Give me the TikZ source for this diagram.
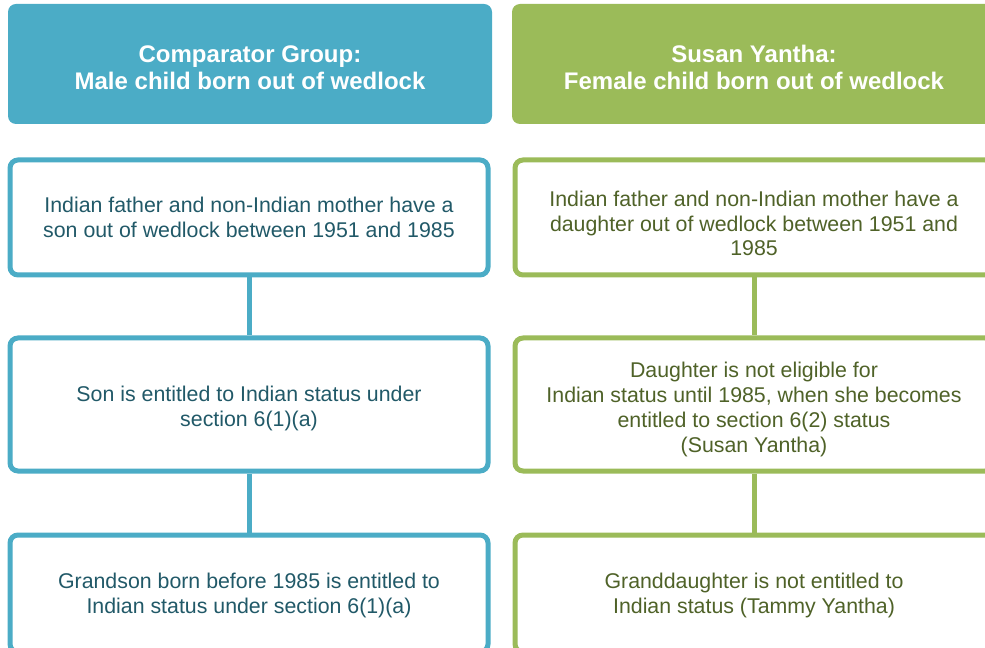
\documentclass[tikz,border=0pt]{standalone}
\usepackage{fontspec}
\setmainfont{Liberation Sans}
\definecolor{tealL}{HTML}{4BACC6}
\definecolor{greenR}{HTML}{9BBB59}
\definecolor{tealtxt}{HTML}{215968}
\definecolor{greentxt}{HTML}{4F6228}
% pushes the text of a box down by half of #2
\newcommand\dropby[2]{\rule{0pt}{\dimexpr #1+#2\relax}}
\tikzset{every picture/.style={line width=0.75pt}}
\tikzset{
  hdr/.style={rounded corners=6pt, minimum width=363pt, minimum height=90pt, text=white, align=center,
    font=\fontsize{18}{20.25}\selectfont\bfseries},
  stepbox/.style={draw, line width=3.75pt, rounded corners=6pt, fill=white, minimum width=358.5pt,
    align=center, font=\fontsize{16}{18.6}\selectfont},
  link/.style={line width=3.75pt}
}

\begin{document}
\begin{tikzpicture}[x=0.75pt,y=0.75pt,yscale=-1,xscale=1]
\path[use as bounding box, clip] (0,0) rectangle (985,648);

%Headers
\node (hdrL) at (250,64) [hdr, fill=tealL] {\dropby{13.1pt}{4.5pt}Comparator Group:\\Male child born out of wedlock};
\node (hdrR) at (754,64) [hdr, fill=greenR] {\dropby{13.1pt}{4.5pt}Susan Yantha:\\Female child born out of wedlock};

%Left column
\node (sonA) at (249,217.5) [stepbox, draw=tealL, text=tealtxt, minimum height=86.25pt]
  {Indian father and non-Indian mother have a\\son out of wedlock between 1951 and 1985};
\node (sonB) at (249,404.5) [stepbox, draw=tealL, text=tealtxt, minimum height=99.75pt]
  {\dropby{11.7pt}{6pt}Son is entitled to Indian status under\\section 6(1)(a)};
\node (sonC) at (249,593.5) [stepbox, draw=tealL, text=tealtxt, minimum height=87.75pt]
  {\dropby{11.7pt}{3pt}Grandson born before 1985 is entitled to\\Indian status under section 6(1)(a)};

%Right column
\node (dauA) at (754,217.5) [stepbox, draw=greenR, text=greentxt, minimum height=86.25pt]
  {\dropby{11.7pt}{9pt}Indian father and non-Indian mother have a\\daughter out of wedlock between 1951 and\\1985};
\node (dauB) at (754,404.5) [stepbox, draw=greenR, text=greentxt, minimum height=99.75pt]
  {\dropby{11.7pt}{7.5pt}Daughter is not eligible for\\Indian status until 1985, when she becomes\\entitled to section 6(2) status\\(Susan Yantha)};
\node (dauC) at (754,593.5) [stepbox, draw=greenR, text=greentxt, minimum height=87.75pt]
  {\dropby{11.7pt}{3pt}Granddaughter is not entitled to\\Indian status (Tammy Yantha)};

%Straight Lines
\draw [link, tealL] (sonA.south) -- (sonB.north) ;
\draw [link, tealL] (sonB.south) -- (sonC.north) ;
\draw [link, greenR] (dauA.south) -- (dauB.north) ;
\draw [link, greenR] (dauB.south) -- (dauC.north) ;

\end{tikzpicture}
\end{document}
